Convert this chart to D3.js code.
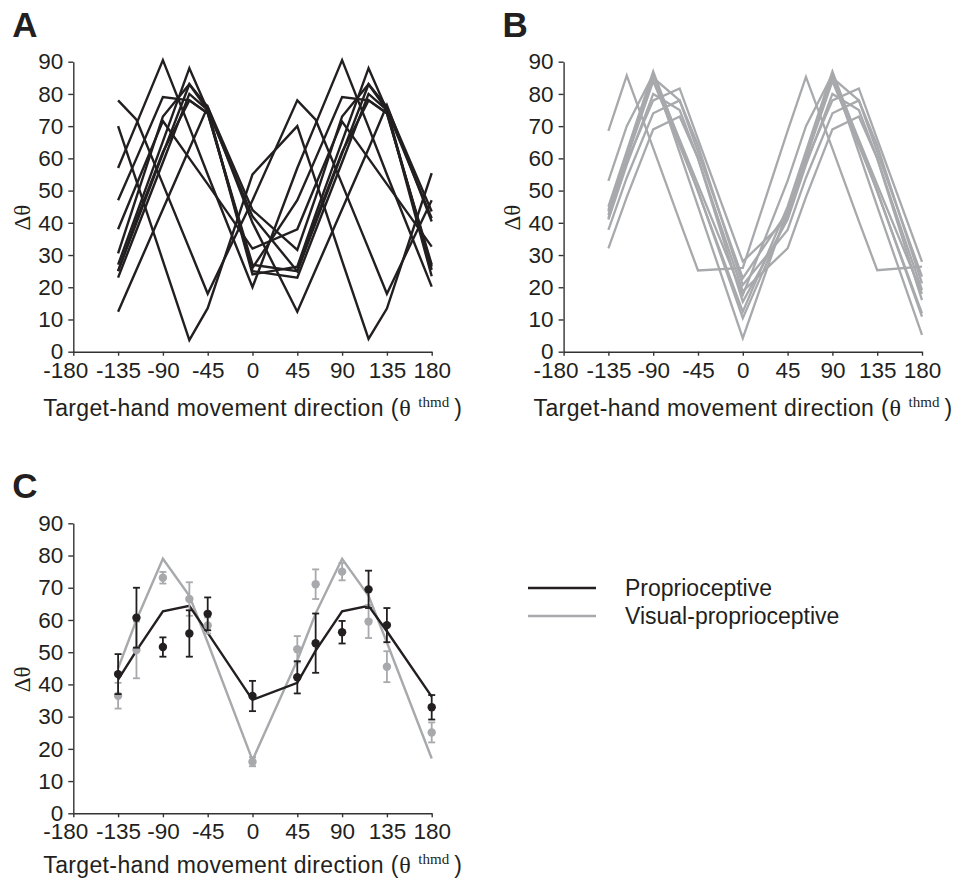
<!DOCTYPE html>
<html>
<head>
<meta charset="utf-8">
<script src="https://cdn.jsdelivr.net/npm/d3@7"></script>
<style>
  body { margin: 0; background: #fff; }
  svg text { font-family: "Liberation Sans", Arial, sans-serif; fill: #231f20; }
  svg text.serif { font-family: "Liberation Serif", "Times New Roman", serif; }
</style>
</head>
<body>
<svg id="chart" width="968" height="880"></svg>
<script>
// target-hand movement directions (deg) at which delta-theta was measured
const directions = [-135, -116.57, -90, -63.43, -45, 0, 45, 63.43, 90, 116.57, 135, 180];
const xTicks = [-180, -135, -90, -45, 0, 45, 90, 135, 180];
const yTicks = [0, 10, 20, 30, 40, 50, 60, 70, 80, 90];

// panel A: proprioceptive condition, one row per subject
const proprioSubjects = [
  [12.4, 25.4, 44.2, 63.0, 76.0, 40.0, 12.4, 25.4, 44.2, 63.0, 76.5, 40.4],
  [78.0, 72.0, 52.0, 32.0, 18.0, 47.0, 78.0, 72.0, 52.0, 32.0, 18.0, 47.0],
  [70.0, 53.0, 28.2, 3.6, 13.5, 55.0, 70.0, 53.0, 28.2, 4.0, 13.4, 55.4],
  [57.0, 70.7, 90.5, 69.7, 55.0, 20.0, 57.0, 70.7, 90.5, 69.7, 55.0, 20.2],
  [38.0, 51.8, 71.6, 60.0, 52.0, 32.0, 38.0, 51.8, 71.4, 60.0, 52.0, 32.6],
  [47.0, 60.0, 79.0, 78.0, 74.0, 26.0, 47.0, 60.0, 79.0, 78.0, 74.0, 26.4],
  [30.5, 48.0, 73.0, 83.0, 76.0, 44.0, 31.6, 48.0, 73.0, 83.0, 76.0, 43.5],
  [27.0, 42.7, 65.3, 88.0, 75.0, 24.0, 26.4, 42.7, 65.3, 88.0, 75.0, 23.4],
  [25.0, 40.0, 61.5, 83.0, 75.0, 42.0, 25.0, 40.0, 61.5, 83.0, 75.0, 41.4],
  [23.0, 37.7, 58.8, 80.0, 75.0, 25.0, 23.0, 37.7, 58.8, 80.0, 75.0, 25.4],
  [25.0, 41.0, 62.0, 78.0, 74.0, 27.0, 25.0, 41.0, 62.0, 78.0, 74.0, 27.0]
];

// panel B: visual-proprioceptive condition, one row per subject
const visualSubjects = [
  [68.5, 85.7, 63.2, 40.6, 25.2, 26.0, 68.5, 85.3, 63.0, 40.5, 25.3, 26.4],
  [53.0, 70.0, 86.0, 65.8, 51.8, 17.6, 53.0, 70.0, 86.0, 65.8, 51.8, 18.0],
  [45.0, 62.2, 87.0, 65.0, 49.7, 12.4, 45.0, 62.2, 87.0, 65.0, 49.7, 11.9],
  [43.5, 61.0, 85.0, 78.0, 62.0, 22.8, 43.5, 61.0, 85.0, 78.0, 62.0, 23.3],
  [42.4, 60.0, 84.0, 64.0, 50.0, 10.4, 42.4, 60.0, 84.0, 64.0, 50.0, 10.9],
  [41.4, 59.0, 78.0, 81.7, 66.0, 28.0, 41.4, 59.0, 78.0, 81.7, 66.0, 27.9],
  [44.0, 61.0, 86.0, 61.8, 45.1, 4.2, 44.0, 61.0, 86.0, 61.8, 45.1, 5.2],
  [37.8, 54.0, 74.0, 78.0, 64.0, 20.7, 37.8, 54.0, 74.0, 78.0, 64.0, 21.2],
  [32.1, 48.0, 69.0, 73.0, 60.0, 18.7, 32.1, 48.0, 69.0, 73.0, 60.0, 19.1],
  [41.0, 58.0, 80.0, 75.0, 60.0, 15.5, 41.0, 58.0, 80.0, 75.0, 60.0, 16.0]
];

// panel C: group means, errors and model curves
const proprioMean = [43.2, 60.7, 51.6, 55.8, 61.9, 36.4, 42.2, 52.8, 56.2, 69.5, 58.4, 32.9];
const proprioErr = [6.2, 9.3, 3.0, 7.2, 5.1, 4.7, 5.0, 9.2, 3.5, 5.8, 5.3, 3.8];
const visualMean = [36.5, 50.7, 73.1, 66.5, 58.3, 16.0, 50.9, 71.1, 75.0, 59.5, 45.5, 25.1];
const visualErr = [4.0, 8.8, 1.8, 5.2, 2.5, 1.4, 4.1, 4.6, 2.7, 5.1, 4.8, 3.1];
const proprioFit = [41.5, 50.5, 62.7, 64.4, 56.0, 35.2, 40.5, 50.5, 62.7, 64.4, 56.5, 36.2];
const visualFit = [45.0, 60.0, 79.0, 67.5, 53.0, 16.5, 47.5, 62.0, 79.0, 67.5, 53.0, 17.0];

const seriesNames = ['Proprioceptive', 'Visual-proprioceptive'];

const ink = '#231f20';
const grey = '#a7a9ac';
const svg = d3.select('#chart');

function makePanel(left, top, label, titleY) {
  const x = d3.scaleLinear().domain([-180, 180]).range([left, left + 358.4]);
  const y = d3.scaleLinear().domain([0, 90]).range([top + 290, top]);
  const g = svg.append('g');

  const xAxis = g.append('g')
    .attr('transform', 'translate(0,' + y(0) + ')')
    .call(d3.axisBottom(x).tickValues(xTicks).tickSize(4).tickSizeOuter(0).tickPadding(6)
      .tickFormat(function (d) { return String(d); }));
  const yAxis = g.append('g')
    .attr('transform', 'translate(' + x(-180) + ',0)')
    .call(d3.axisLeft(y).tickValues(yTicks).tickSize(5).tickSizeOuter(0).tickPadding(5));

  [xAxis, yAxis].forEach(function (a) {
    a.attr('color', ink);
    a.selectAll('path, line').attr('stroke-width', 1.4).attr('stroke', '#333');
    a.selectAll('text').attr('font-size', 22.5);
  });
  // first label sits left of its tick, as in the original figure
  xAxis.selectAll('.tick text').filter(function (d) { return d === -180; }).attr('dx', -8);

  g.append('text')
    .attr('x', left - 61).attr('y', top - 25)
    .attr('font-size', 35).attr('font-weight', 'bold')
    .text(label);

  g.append('text').attr('class', 'serif')
    .attr('transform', 'translate(' + (left - 51) + ',' + (top + 156) + ') rotate(-90)')
    .attr('text-anchor', 'middle').attr('dominant-baseline', 'central')
    .attr('font-size', 23)
    .text('Δθ');

  const tx = left - 30;
  g.append('text').attr('x', tx).attr('y', titleY).attr('font-size', 23)
    .attr('textLength', 355).attr('lengthAdjust', 'spacing')
    .text('Target-hand movement direction (');
  g.append('text').attr('class', 'serif').attr('x', tx + 356).attr('y', titleY).attr('font-size', 24)
    .text('θ');
  g.append('text').attr('class', 'serif').attr('x', tx + 375).attr('y', titleY - 9).attr('font-size', 15)
    .text('thmd');
  g.append('text').attr('x', tx + 411).attr('y', titleY).attr('font-size', 23)
    .text(')');

  return { g: g, x: x, y: y };
}

function drawLines(p, rows, colour, width) {
  const line = d3.line()
    .x(function (d, i) { return p.x(directions[i]); })
    .y(function (d) { return p.y(d); });
  p.g.append('g').selectAll('path')
    .data(rows)
    .enter().append('path')
    .attr('d', line)
    .attr('fill', 'none')
    .attr('stroke', colour)
    .attr('stroke-width', width)
    .attr('stroke-linejoin', 'miter');
}

function drawPoints(p, means, errs, colour) {
  const pts = directions.map(function (d, i) { return { dir: d, m: means[i], e: errs[i] }; });
  const grp = p.g.append('g').attr('stroke', colour).attr('fill', colour).attr('stroke-width', 1.8);
  const bars = grp.selectAll('g.bar').data(pts).enter().append('g').attr('class', 'bar');
  bars.append('line')
    .attr('x1', function (d) { return p.x(d.dir); }).attr('x2', function (d) { return p.x(d.dir); })
    .attr('y1', function (d) { return p.y(d.m - d.e); }).attr('y2', function (d) { return p.y(d.m + d.e); });
  [-1, 1].forEach(function (s) {
    bars.append('line')
      .attr('x1', function (d) { return p.x(d.dir) - 3.5; }).attr('x2', function (d) { return p.x(d.dir) + 3.5; })
      .attr('y1', function (d) { return p.y(d.m + s * d.e); }).attr('y2', function (d) { return p.y(d.m + s * d.e); });
  });
  bars.append('circle')
    .attr('cx', function (d) { return p.x(d.dir); })
    .attr('cy', function (d) { return p.y(d.m); })
    .attr('r', 4.2).attr('stroke', 'none');
}

const panelA = makePanel(73.3, 61.7, 'A', 415.5);
drawLines(panelA, proprioSubjects, ink, 2.4);

const panelB = makePanel(563.6, 61.7, 'B', 415.5);
drawLines(panelB, visualSubjects, grey, 2.3);

const panelC = makePanel(73.3, 523.3, 'C', 873);
drawLines(panelC, [visualFit], grey, 2.4);
drawLines(panelC, [proprioFit], ink, 2.4);
drawPoints(panelC, visualMean, visualErr, grey);
drawPoints(panelC, proprioMean, proprioErr, ink);

// legend
const legend = svg.append('g').attr('transform', 'translate(528,588)');
const items = legend.selectAll('g').data(seriesNames).enter().append('g')
  .attr('transform', function (d, i) { return 'translate(0,' + i * 28 + ')'; });
items.append('line')
  .attr('x1', 0).attr('x2', 68).attr('y1', 0).attr('y2', 0)
  .attr('stroke', function (d, i) { return i === 0 ? ink : grey; })
  .attr('stroke-width', 2.6);
items.append('text')
  .attr('x', 97).attr('y', 0).attr('dominant-baseline', 'central')
  .attr('font-size', 23)
  .text(function (d) { return d; });
</script>
</body>
</html>
